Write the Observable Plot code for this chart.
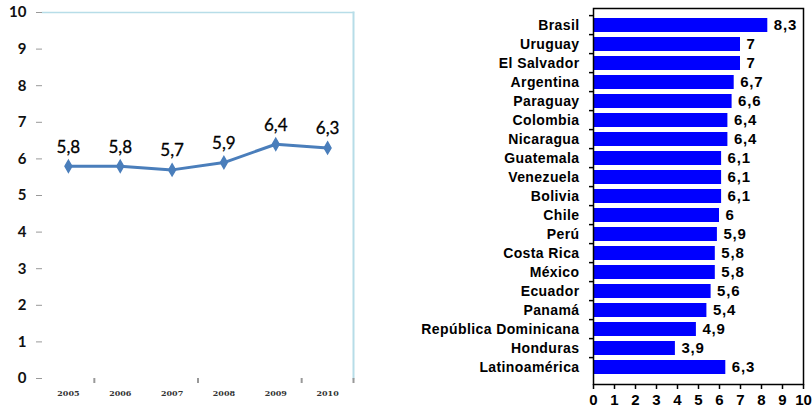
<!DOCTYPE html>
<html>
<head>
<meta charset="utf-8">
<script src="https://cdn.jsdelivr.net/npm/d3@7"></script>
<script src="https://cdn.jsdelivr.net/npm/@observablehq/plot@0.6"></script>
<style>
  html, body { margin: 0; padding: 0; background: #fff; }
  #wrap { position: relative; width: 812px; height: 412px; overflow: hidden; }
  #left { position: absolute; left: 0; top: 0; }
  #right { position: absolute; left: 400px; top: 0; }
  #right g[aria-label="y-axis tick label"] text { letter-spacing: 0.4px; }
  #right g[aria-label="text"] text { letter-spacing: 0.8px; }
</style>
</head>
<body>
<div id="wrap"><div id="left"></div><div id="right"></div></div>
<script>
// Left panel: line series
const years = [2005, 2006, 2007, 2008, 2009, 2010];
const yearValues = [5.8, 5.8, 5.7, 5.9, 6.4, 6.3];
const yTicks = [0, 1, 2, 3, 4, 5, 6, 7, 8, 9, 10];

// Right panel: bars
const countries = ["Brasil", "Uruguay", "El Salvador", "Argentina", "Paraguay", "Colombia", "Nicaragua", "Guatemala", "Venezuela", "Bolivia", "Chile", "Perú", "Costa Rica", "México", "Ecuador", "Panamá", "República Dominicana", "Honduras", "Latinoamérica"];
const countryValues = [8.3, 7, 7, 6.7, 6.6, 6.4, 6.4, 6.1, 6.1, 6.1, 6, 5.9, 5.8, 5.8, 5.6, 5.4, 4.9, 3.9, 6.3];
const xTicks = [0, 1, 2, 3, 4, 5, 6, 7, 8, 9, 10];

const fmt = d => String(d).replace(".", ",");

const lineData = years.map((y, i) => ({year: y, value: yearValues[i]}));
const barData = countries.map((c, i) => ({country: c, value: countryValues[i]}));

const lineColor = "#4a7ebb";
const left = Plot.plot({
  width: 370, height: 412,
  marginLeft: 42, marginRight: 17, marginTop: 12, marginBottom: 34,
  style: {fontFamily: "Lato, 'Open Sans', sans-serif", background: "#fff"},
  x: {domain: [2004.5, 2010.5], label: null},
  y: {domain: [0, 10], label: null},
  marks: [
    Plot.frame({anchor: "top", stroke: "#b7dde8", strokeWidth: 1.5}),
    Plot.frame({anchor: "right", stroke: "#b7dde8", strokeWidth: 2}),
    Plot.axisY({ticks: yTicks, tickSize: 6, tickPadding: 10, stroke: "#999", fontSize: 15, fontWeight: "bold", fill: "#111", tickFormat: d => String(d)}),
    Plot.axisX({ticks: [2005.5, 2007.5, 2009.5, 2010.5], tickSize: 5, stroke: "#999", strokeWidth: 2, tickFormat: () => "", label: null}),
    Plot.axisX({ticks: years, tickSize: 0, tickPadding: 12, fontSize: 8, fontWeight: "bold", fontFamily: "'DejaVu Serif', serif", fill: "#333", tickFormat: d => String(d), label: null}),
    Plot.line(lineData, {x: "year", y: "value", stroke: lineColor, strokeWidth: 3}),
    Plot.dot(lineData, {x: "year", y: "value", symbol: "diamond", r: 3.6, fill: lineColor, stroke: lineColor}),
    Plot.text(lineData, {x: "year", y: "value", text: d => fmt(d.value), dy: -19, fontSize: 17, fill: "#000", stroke: "#000", strokeWidth: 0.3})
  ]
});
document.getElementById("left").appendChild(left);

const right = Plot.plot({
  width: 412, height: 412,
  marginLeft: 193, marginRight: 9, marginTop: 8, marginBottom: 28,
  style: {fontFamily: "'Liberation Sans', Arial, sans-serif", background: "#fff"},
  x: {domain: [0, 10], label: null},
  y: {domain: countries, paddingInner: 0.28, paddingOuter: 0.14, label: null},
  marks: [
    Plot.barX(barData, {y: "country", x: "value", fill: "#0000ff"}),
    Plot.frame({stroke: "#000", strokeWidth: 1.5}),
    Plot.axisY({ticks: countries, tickSize: 0, tickPadding: 14, fontSize: 14, fontWeight: "bold", fill: "#000", label: null}),
    Plot.axisY({ticks: countries, tickSize: 4, stroke: "#000", strokeWidth: 1.5, dy: -376 / 19 / 2, tickFormat: () => "", label: null}),
    Plot.axisX({ticks: xTicks, tickSize: 5, tickPadding: 5, stroke: "#000", strokeWidth: 1.5, fontSize: 15, fontWeight: "bold", fill: "#000", tickFormat: d => String(d), label: null}),
    Plot.text(barData, {y: "country", x: "value", text: d => fmt(d.value), dx: 6, textAnchor: "start", fontSize: 15, fontWeight: "bold", fill: "#000"})
  ]
});
document.getElementById("right").appendChild(right);
</script>
</body>
</html>
